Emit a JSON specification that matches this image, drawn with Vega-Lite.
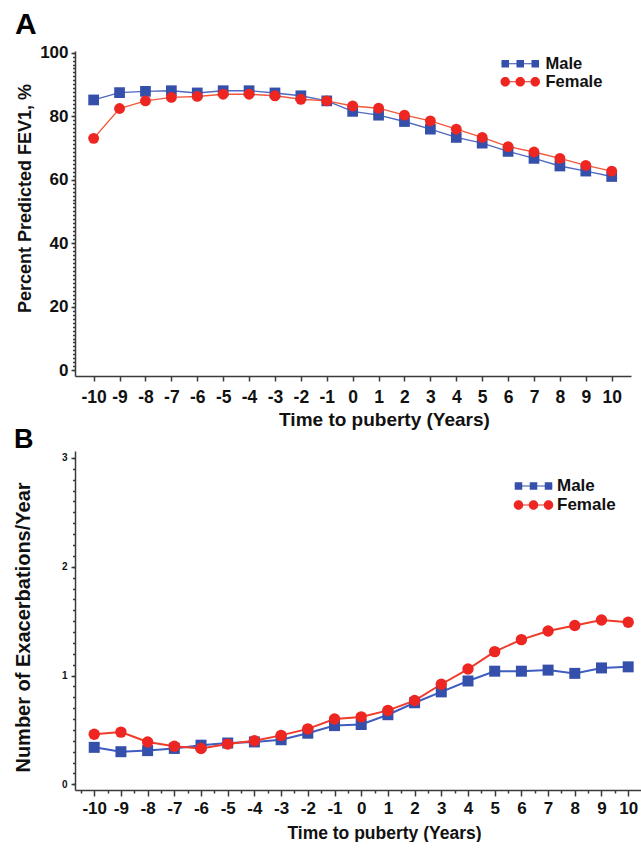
{
  "$schema": "https://vega.github.io/schema/vega-lite/v6.json",
  "background": "white",
  "padding": {"left": 13, "top": 9, "right": 0, "bottom": 0},
  "bounds": "flush",
  "spacing": 75,
  "resolve": {"scale": {"fill": "independent", "shape": "independent"}, "legend": {"fill": "independent", "shape": "independent"}},
  "config": {
    "view": {"stroke": null},
    "font": "Liberation Sans",
    "axis": {
      "grid": false,
      "domainColor": "#3a3a3a",
      "domainWidth": 1.5,
      "tickColor": "#3a3a3a",
      "tickWidth": 1.5,
      "labelColor": "#111111",
      "labelFontWeight": "bold",
      "labelFont": "Liberation Sans",
      "titleColor": "#111111",
      "titleFontWeight": "bold",
      "titleFont": "Liberation Sans",
      "labelFlush": false,
      "labelOverlap": false,
      "labelBound": false
    },
    "legend": {
      "title": null,
      "orient": "none",
      "padding": 0,
      "labelFont": "Liberation Sans",
      "labelFontWeight": "bold",
      "labelColor": "#111111",
      "symbolStrokeWidth": 0,
      "symbolSize": 100,
      "symbolOpacity": 1,
      "rowPadding": 1
    }
  },
  "datasets": {
    "fev": [
      {"t": -10, "sex": "Male", "v": 85.1}, {"t": -9, "sex": "Male", "v": 87.4}, {"t": -8, "sex": "Male", "v": 87.8},
      {"t": -7, "sex": "Male", "v": 88.0}, {"t": -6, "sex": "Male", "v": 87.3}, {"t": -5, "sex": "Male", "v": 88.0},
      {"t": -4, "sex": "Male", "v": 88.0}, {"t": -3, "sex": "Male", "v": 87.3}, {"t": -2, "sex": "Male", "v": 86.4},
      {"t": -1, "sex": "Male", "v": 84.8}, {"t": 0, "sex": "Male", "v": 81.5}, {"t": 1, "sex": "Male", "v": 80.3},
      {"t": 2, "sex": "Male", "v": 78.3}, {"t": 3, "sex": "Male", "v": 75.9}, {"t": 4, "sex": "Male", "v": 73.3},
      {"t": 5, "sex": "Male", "v": 71.5}, {"t": 6, "sex": "Male", "v": 68.9}, {"t": 7, "sex": "Male", "v": 66.7},
      {"t": 8, "sex": "Male", "v": 64.3}, {"t": 9, "sex": "Male", "v": 62.7}, {"t": 10, "sex": "Male", "v": 61.0},
      {"t": -10, "sex": "Female", "v": 73.0}, {"t": -9, "sex": "Female", "v": 82.4}, {"t": -8, "sex": "Female", "v": 84.8},
      {"t": -7, "sex": "Female", "v": 85.9}, {"t": -6, "sex": "Female", "v": 86.2}, {"t": -5, "sex": "Female", "v": 86.9},
      {"t": -4, "sex": "Female", "v": 86.9}, {"t": -3, "sex": "Female", "v": 86.4}, {"t": -2, "sex": "Female", "v": 85.3},
      {"t": -1, "sex": "Female", "v": 84.8}, {"t": 0, "sex": "Female", "v": 83.2}, {"t": 1, "sex": "Female", "v": 82.5},
      {"t": 2, "sex": "Female", "v": 80.3}, {"t": 3, "sex": "Female", "v": 78.5}, {"t": 4, "sex": "Female", "v": 75.9},
      {"t": 5, "sex": "Female", "v": 73.3}, {"t": 6, "sex": "Female", "v": 70.4}, {"t": 7, "sex": "Female", "v": 68.7},
      {"t": 8, "sex": "Female", "v": 66.7}, {"t": 9, "sex": "Female", "v": 64.5}, {"t": 10, "sex": "Female", "v": 62.7}
    ],
    "exac": [
      {"t": -10, "sex": "Male", "v": 0.34}, {"t": -9, "sex": "Male", "v": 0.30}, {"t": -8, "sex": "Male", "v": 0.31},
      {"t": -7, "sex": "Male", "v": 0.33}, {"t": -6, "sex": "Male", "v": 0.36}, {"t": -5, "sex": "Male", "v": 0.38},
      {"t": -4, "sex": "Male", "v": 0.39}, {"t": -3, "sex": "Male", "v": 0.41}, {"t": -2, "sex": "Male", "v": 0.47},
      {"t": -1, "sex": "Male", "v": 0.54}, {"t": 0, "sex": "Male", "v": 0.55}, {"t": 1, "sex": "Male", "v": 0.64},
      {"t": 2, "sex": "Male", "v": 0.75}, {"t": 3, "sex": "Male", "v": 0.85}, {"t": 4, "sex": "Male", "v": 0.95},
      {"t": 5, "sex": "Male", "v": 1.04}, {"t": 6, "sex": "Male", "v": 1.04}, {"t": 7, "sex": "Male", "v": 1.05},
      {"t": 8, "sex": "Male", "v": 1.02}, {"t": 9, "sex": "Male", "v": 1.07}, {"t": 10, "sex": "Male", "v": 1.08},
      {"t": -10, "sex": "Female", "v": 0.46}, {"t": -9, "sex": "Female", "v": 0.48}, {"t": -8, "sex": "Female", "v": 0.39},
      {"t": -7, "sex": "Female", "v": 0.35}, {"t": -6, "sex": "Female", "v": 0.33}, {"t": -5, "sex": "Female", "v": 0.37},
      {"t": -4, "sex": "Female", "v": 0.40}, {"t": -3, "sex": "Female", "v": 0.45}, {"t": -2, "sex": "Female", "v": 0.51},
      {"t": -1, "sex": "Female", "v": 0.60}, {"t": 0, "sex": "Female", "v": 0.62}, {"t": 1, "sex": "Female", "v": 0.68},
      {"t": 2, "sex": "Female", "v": 0.77}, {"t": 3, "sex": "Female", "v": 0.92}, {"t": 4, "sex": "Female", "v": 1.06},
      {"t": 5, "sex": "Female", "v": 1.22}, {"t": 6, "sex": "Female", "v": 1.33}, {"t": 7, "sex": "Female", "v": 1.41},
      {"t": 8, "sex": "Female", "v": 1.46}, {"t": 9, "sex": "Female", "v": 1.51}, {"t": 10, "sex": "Female", "v": 1.49}
    ]
  },
  "vconcat": [
    {
      "width": 556,
      "height": 325,
      "title": {"text": "A", "anchor": "start", "frame": "group", "dx": -60, "dy": 39, "offset": 19, "baseline": "alphabetic", "fontSize": 30, "fontWeight": "bold", "font": "Liberation Sans", "color": "#000000"},
      "data": {"name": "fev"},
      "resolve": {"axis": {"y": "independent", "x": "independent"}},
      "layer": [
        {
          "transform": [{"filter": "datum.sex === 'Male'"}],
          "mark": {"type": "line", "strokeWidth": 1.4, "color": "#5068c0"},
          "encoding": {
            "x": {"field": "t", "type": "quantitative", "scale": {"domain": [-10.72, 10.745], "nice": false, "zero": false}, "axis": null},
            "y": {"field": "v", "type": "quantitative", "scale": {"domain": [-1.8, 100.5], "nice": false, "zero": false}, "axis": null}
          }
        },
        {
          "transform": [{"filter": "datum.sex === 'Female'"}],
          "mark": {"type": "line", "strokeWidth": 1.4, "color": "#f2583a"},
          "encoding": {
            "x": {"field": "t", "type": "quantitative", "axis": null},
            "y": {"field": "v", "type": "quantitative", "axis": null}
          }
        },
        {
          "transform": [{"filter": "datum.sex === 'Male'"}],
          "mark": {"type": "point", "shape": "square", "filled": true, "size": 115, "opacity": 1, "color": "#3550aa", "strokeWidth": 0},
          "encoding": {
            "x": {"field": "t", "type": "quantitative", "axis": {"values": [-10,-9,-8,-7,-6,-5,-4,-3,-2,-1,0,1,2,3,4,5,6,7,8,9,10], "labelExpr": "'' + datum.value", "labelFontSize": 17.5, "tickSize": 5, "labelPadding": 7, "title": "Time to puberty (Years)", "titleFontSize": 19, "titleX": 309, "titleY": 43, "titleBaseline": "middle"}},
            "y": {"field": "v", "type": "quantitative", "axis": {"values": [0, 20, 40, 60, 80, 100], "labelFontSize": 17, "tickSize": 4, "labelPadding": 3, "title": "Percent Predicted FEV1, %", "titleFontSize": 18, "titleX": -50, "titleY": 147, "titleBaseline": "middle"}}
          }
        },
        {
          "transform": [{"filter": "datum.sex === 'Female'"}],
          "mark": {"type": "point", "shape": "circle", "filled": true, "size": 118, "opacity": 1, "color": "#ee2622", "strokeWidth": 0},
          "encoding": {
            "x": {"field": "t", "type": "quantitative", "axis": null},
            "y": {"field": "v", "type": "quantitative", "axis": null}
          }
        },
        {
          "transform": [{"filter": "datum.t > 100"}],
          "mark": {"type": "point", "filled": true, "opacity": 1, "strokeWidth": 0},
          "encoding": {
            "x": {"field": "t", "type": "quantitative", "axis": null},
            "y": {"field": "v", "type": "quantitative", "axis": {"orient": "left", "values": [0,1.25,2.5,3.75,5,6.25,7.5,8.75,10,11.25,12.5,13.75,15,16.25,17.5,18.75,20,21.25,22.5,23.75,25,26.25,27.5,28.75,30,31.25,32.5,33.75,35,36.25,37.5,38.75,40,41.25,42.5,43.75,45,46.25,47.5,48.75,50,51.25,52.5,53.75,55,56.25,57.5,58.75,60,61.25,62.5,63.75,65,66.25,67.5,68.75,70,71.25,72.5,73.75,75,76.25,77.5,78.75,80,81.25,82.5,83.75,85,86.25,87.5,88.75,90,91.25,92.5,93.75,95,96.25,97.5,98.75,100], "labels": false, "domain": false, "tickSize": 2.5, "title": null}},
            "fill": {"field": "sex", "type": "nominal", "scale": {"domain": ["Male", "Female"], "range": ["#3550aa", "#ee2622"]},
              "legend": {"legendX": 423, "legendY": 4.5, "labelFontSize": 16.5, "labelOffset": 31}},
            "shape": {"field": "sex", "type": "nominal", "scale": {"domain": ["Male", "Female"], "range": ["M-1,-0.12H6.6V0.12H-1Z M-0.95,-0.75h1.5v1.5h-1.5Z M2.05,-0.75h1.5v1.5h-1.5Z M5.05,-0.75h1.5v1.5h-1.5Z", "M-1,-0.12H6.6V0.12H-1Z M-1.15,0a0.95,0.95 0 1,1 1.9,0a0.95,0.95 0 1,1 -1.9,0Z M1.85,0a0.95,0.95 0 1,1 1.9,0a0.95,0.95 0 1,1 -1.9,0Z M4.85,0a0.95,0.95 0 1,1 1.9,0a0.95,0.95 0 1,1 -1.9,0Z"]},
              "legend": {"legendX": 423, "legendY": 4.5, "labelFontSize": 16.5, "labelOffset": 31}}
          }
        }
      ]
    },
    {
      "width": 566,
      "height": 339,
      "title": {"text": "B", "anchor": "start", "frame": "group", "dx": -61, "dy": 28, "offset": 4, "baseline": "alphabetic", "fontSize": 27, "fontWeight": "bold", "font": "Liberation Sans", "color": "#000000"},
      "data": {"name": "exac"},
      "resolve": {"axis": {"y": "independent", "x": "independent"}},
      "layer": [
        {
          "transform": [{"filter": "datum.sex === 'Male'"}],
          "mark": {"type": "line", "strokeWidth": 2, "color": "#3f5cc0"},
          "encoding": {
            "x": {"field": "t", "type": "quantitative", "scale": {"domain": [-10.72, 10.48], "nice": false, "zero": false}, "axis": null},
            "y": {"field": "v", "type": "quantitative", "scale": {"domain": [-0.052, 3.064], "nice": false, "zero": false}, "axis": null}
          }
        },
        {
          "transform": [{"filter": "datum.sex === 'Female'"}],
          "mark": {"type": "line", "strokeWidth": 2, "color": "#f03a2a"},
          "encoding": {
            "x": {"field": "t", "type": "quantitative", "axis": null},
            "y": {"field": "v", "type": "quantitative", "axis": null}
          }
        },
        {
          "transform": [{"filter": "datum.sex === 'Male'"}],
          "mark": {"type": "point", "shape": "square", "filled": true, "size": 121, "opacity": 1, "color": "#3550aa", "strokeWidth": 0},
          "encoding": {
            "x": {"field": "t", "type": "quantitative", "axis": {"values": [-10,-9,-8,-7,-6,-5,-4,-3,-2,-1,0,1,2,3,4,5,6,7,8,9,10], "labelExpr": "'' + datum.value", "labelFontSize": 17, "tickSize": 6, "labelPadding": 4, "title": "Time to puberty (Years)", "titleFontSize": 17.5, "titleX": 309, "titleY": 43, "titleBaseline": "middle"}},
            "y": {"field": "v", "type": "quantitative", "axis": {"values": [0, 1, 2, 3], "labelFontSize": 10, "tickSize": 4, "labelPadding": 4, "title": "Number of Exacerbations/Year", "titleFontSize": 20, "titleX": -51.5, "titleY": 176, "titleBaseline": "middle"}}
          }
        },
        {
          "transform": [{"filter": "datum.sex === 'Female'"}],
          "mark": {"type": "point", "shape": "circle", "filled": true, "size": 130, "opacity": 1, "color": "#ee2622", "strokeWidth": 0},
          "encoding": {
            "x": {"field": "t", "type": "quantitative", "axis": null},
            "y": {"field": "v", "type": "quantitative", "axis": null}
          }
        },
        {
          "transform": [{"filter": "datum.t > 100"}],
          "mark": {"type": "point", "filled": true, "opacity": 1, "strokeWidth": 0},
          "encoding": {
            "x": {"field": "t", "type": "quantitative", "axis": {"orient": "bottom", "values": [-10.5,-9.5,-8.5,-7.5,-6.5,-5.5,-4.5,-3.5,-2.5,-1.5,-0.5,0.5,1.5,2.5,3.5,4.5,5.5,6.5,7.5,8.5,9.5], "labels": false, "domain": false, "tickSize": 3, "title": null}},
            "y": {"field": "v", "type": "quantitative", "axis": {"orient": "left", "values": [0,0.1,0.2,0.3,0.4,0.5,0.6,0.7,0.8,0.9,1,1.1,1.2,1.3,1.4,1.5,1.6,1.7,1.8,1.9,2,2.1,2.2,2.3,2.4,2.5,2.6,2.7,2.8,2.9,3], "labels": false, "domain": false, "tickSize": 2.5, "title": null}},
            "fill": {"field": "sex", "type": "nominal", "scale": {"domain": ["Male", "Female"], "range": ["#3550aa", "#ee2622"]},
              "legend": {"legendX": 436, "legendY": 26.5, "labelFontSize": 17, "labelOffset": 29}},
            "shape": {"field": "sex", "type": "nominal", "scale": {"domain": ["Male", "Female"], "range": ["M-1,-0.12H6.6V0.12H-1Z M-0.95,-0.75h1.5v1.5h-1.5Z M2.05,-0.75h1.5v1.5h-1.5Z M5.05,-0.75h1.5v1.5h-1.5Z", "M-1,-0.12H6.6V0.12H-1Z M-1.15,0a0.95,0.95 0 1,1 1.9,0a0.95,0.95 0 1,1 -1.9,0Z M1.85,0a0.95,0.95 0 1,1 1.9,0a0.95,0.95 0 1,1 -1.9,0Z M4.85,0a0.95,0.95 0 1,1 1.9,0a0.95,0.95 0 1,1 -1.9,0Z"]},
              "legend": {"legendX": 436, "legendY": 26.5, "labelFontSize": 17, "labelOffset": 29}}
          }
        }
      ]
    }
  ]
}
